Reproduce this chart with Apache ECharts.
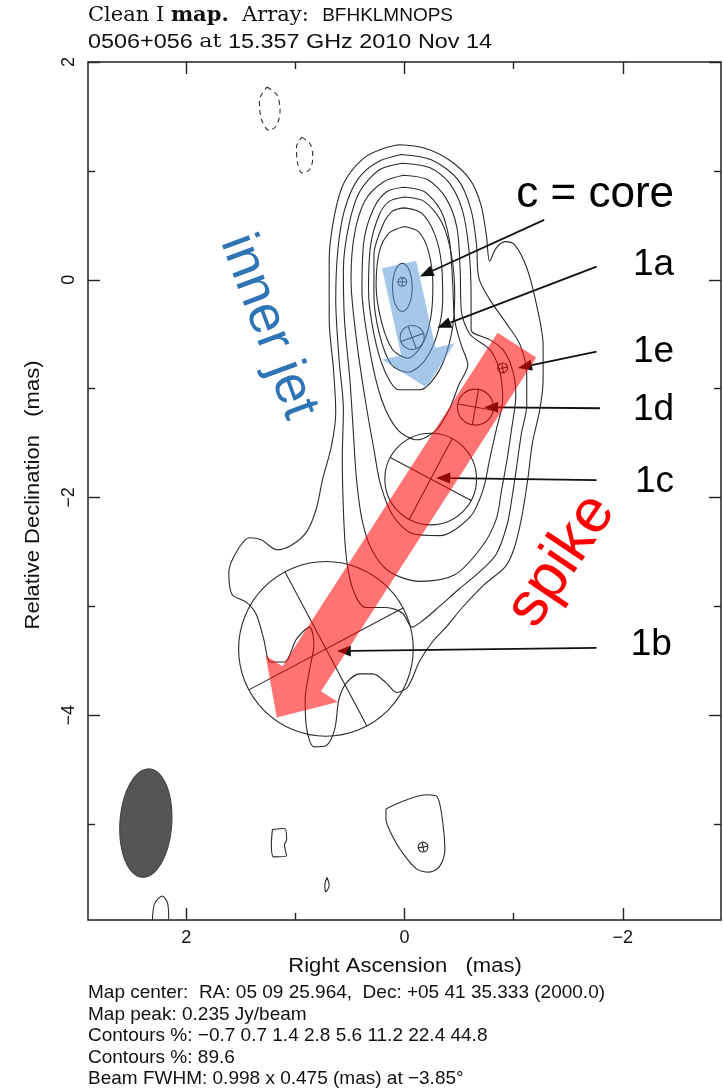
<!DOCTYPE html>
<html>
<head>
<meta charset="utf-8">
<title>0506+056 clean map</title>
<script src="https://cdn.jsdelivr.net/npm/echarts@6/dist/echarts.min.js"></script>
<style>
html, body { margin: 0; padding: 0; background: #fff; }
#main { width: 723px; height: 1088px; }
</style>
</head>
<body>
<div id="main"></div>
<script>
// axis ticks (mas)
var xMajorTicks = [2, 0, -2]
var xMinorTicks = [1, -1]
var yMajorTicks = [2, 0, -2, -4]
var yMinorTicks = [1, -1, -3, -5]

// contours [RA, Dec] in mas, outermost (0.7%) to innermost
var contour07 = [[0.05,1.24],[-0.18,1.21],[-0.41,1.10],[-0.60,0.92],[-0.70,0.69],[-0.75,0.41],[-0.78,0.17],[-0.84,0.29],[-0.92,0.35],[-1.01,0.32],[-1.12,0.11],[-1.21,-0.23],[-1.27,-0.60],[-1.27,-0.92],[-1.24,-1.19],[-1.17,-1.51],[-1.13,-1.83],[-1.07,-2.20],[-1.00,-2.48],[-0.92,-2.64],[-0.73,-2.80],[-0.53,-3.01],[-0.39,-3.18],[-0.26,-3.32],[-0.14,-3.50],[-0.03,-3.74],[0.07,-3.79],[0.17,-3.70],[0.29,-3.62],[0.41,-3.62],[0.53,-3.70],[0.60,-3.85],[0.64,-4.13],[0.72,-4.28],[0.83,-4.29],[0.90,-4.10],[0.91,-3.85],[0.87,-3.58],[0.83,-3.35],[0.87,-3.19],[0.99,-3.30],[1.10,-3.51],[1.23,-3.51],[1.29,-3.30],[1.36,-3.07],[1.45,-2.96],[1.58,-2.89],[1.61,-2.69],[1.54,-2.50],[1.42,-2.37],[1.31,-2.39],[1.17,-2.48],[1.04,-2.44],[0.90,-2.32],[0.81,-2.11],[0.75,-1.83],[0.67,-1.53],[0.63,-1.22],[0.65,-0.83],[0.69,-0.37],[0.69,0.18],[0.64,0.60],[0.55,0.90],[0.37,1.12],[0.18,1.21],[0.05,1.24]]
var contour14 = [[0.03,1.15],[-0.25,1.10],[-0.49,0.92],[-0.61,0.64],[-0.66,0.32],[-0.68,0.02],[-0.78,-0.18],[-0.94,-0.41],[-1.06,-0.60],[-1.12,-0.87],[-1.12,-1.15],[-1.07,-1.42],[-1.03,-1.70],[-0.99,-1.97],[-0.94,-2.25],[-0.84,-2.52],[-0.69,-2.68],[-0.50,-2.84],[-0.32,-3.00],[-0.18,-3.12],[-0.07,-3.19],[0.02,-3.06],[0.17,-3.01],[0.35,-3.01],[0.43,-2.94],[0.50,-2.75],[0.54,-2.48],[0.56,-2.11],[0.57,-1.65],[0.56,-1.19],[0.60,-0.73],[0.63,-0.18],[0.61,0.28],[0.55,0.64],[0.43,0.92],[0.25,1.08],[0.03,1.15]]
var contour28 = [[0.02,1.07],[-0.23,1.03],[-0.41,0.89],[-0.53,0.64],[-0.59,0.28],[-0.61,-0.14],[-0.61,-0.46],[-0.78,-0.55],[-0.90,-0.64],[-0.99,-0.83],[-1.02,-1.06],[-0.98,-1.38],[-0.94,-1.65],[-0.89,-1.93],[-0.84,-2.20],[-0.71,-2.45],[-0.46,-2.71],[-0.14,-2.77],[0.14,-2.68],[0.30,-2.48],[0.39,-2.20],[0.44,-1.83],[0.47,-1.38],[0.50,-0.92],[0.55,-0.37],[0.56,0.09],[0.51,0.50],[0.41,0.81],[0.23,1.01],[0.02,1.07]]
var contour56 = [[0.01,0.96],[-0.21,0.92],[-0.38,0.75],[-0.48,0.48],[-0.51,0.09],[-0.52,-0.28],[-0.60,-0.50],[-0.78,-0.64],[-0.87,-0.83],[-0.90,-1.10],[-0.84,-1.38],[-0.78,-1.65],[-0.72,-1.93],[-0.60,-2.18],[-0.32,-2.35],[-0.07,-2.33],[0.11,-2.16],[0.22,-1.88],[0.28,-1.56],[0.36,-1.10],[0.44,-0.55],[0.49,0.00],[0.46,0.41],[0.36,0.73],[0.19,0.90],[0.01,0.96]]
var contour112 = [[0.01,0.85],[-0.18,0.81],[-0.33,0.64],[-0.41,0.37],[-0.44,0.00],[-0.46,-0.37],[-0.52,-0.60],[-0.58,-0.78],[-0.50,-0.96],[-0.41,-1.19],[-0.29,-1.38],[-0.12,-1.47],[0.06,-1.38],[0.21,-1.10],[0.32,-0.64],[0.39,-0.09],[0.37,0.37],[0.28,0.66],[0.16,0.81],[0.01,0.85]]
var contour224 = [[0.00,0.76],[-0.18,0.72],[-0.34,0.53],[-0.43,0.23],[-0.46,-0.14],[-0.43,-0.50],[-0.32,-0.83],[-0.14,-1.01],[0.05,-1.01],[0.18,-0.84],[0.28,-0.50],[0.33,-0.09],[0.31,0.32],[0.23,0.60],[0.14,0.72],[0.00,0.76]]
var contour448 = [[0.00,0.66],[-0.16,0.61],[-0.28,0.41],[-0.34,0.14],[-0.35,-0.18],[-0.30,-0.50],[-0.18,-0.75],[-0.03,-0.85],[0.12,-0.78],[0.23,-0.50],[0.28,-0.14],[0.28,0.23],[0.20,0.50],[0.11,0.63],[0.00,0.66]]
var contour896 = [[0.00,0.49],[-0.13,0.44],[-0.22,0.26],[-0.26,-0.05],[-0.24,-0.35],[-0.16,-0.60],[-0.03,-0.72],[0.11,-0.64],[0.21,-0.39],[0.26,-0.05],[0.23,0.26],[0.14,0.43],[0.00,0.49]]

// negative (-0.7%) contours
var negContourA = [[1.26,1.77],[1.17,1.70],[1.14,1.56],[1.17,1.42],[1.24,1.37],[1.31,1.47],[1.33,1.65],[1.26,1.77]]
var negContourB = [[0.94,1.31],[0.86,1.24],[0.84,1.12],[0.87,1.01],[0.94,0.98],[0.98,1.07],[0.99,1.22],[0.94,1.31]]

// small isolated 0.7% islands
var islandA = [[0.17,-4.86],[-0.20,-4.73],[-0.30,-4.75],[-0.35,-4.98],[-0.37,-5.23],[-0.32,-5.39],[-0.23,-5.44],[-0.11,-5.41],[0.02,-5.26],[0.11,-5.11],[0.17,-4.95],[0.17,-4.86]]
var islandB = [[1.21,-5.05],[1.10,-5.04],[1.08,-5.14],[1.10,-5.19],[1.08,-5.29],[1.20,-5.30],[1.22,-5.18],[1.21,-5.05]]
var islandC = [[0.71,-5.49],[0.69,-5.56],[0.72,-5.62],[0.73,-5.56],[0.71,-5.49]]
var islandD = [[2.31,-5.89],[2.29,-5.73],[2.22,-5.66],[2.17,-5.73],[2.16,-5.89]]

// model components: [RA, Dec, radius (mas), cross angle (deg)]
var components = [[0.02,-0.02,0.04,0],[-0.07,-0.53,0.11,20],[-0.90,-0.81,0.045,10],[-0.65,-1.17,0.165,-10],[-0.24,-1.83,0.42,-28],[0.72,-3.39,0.80,28],[-0.17,-5.21,0.045,10]]
// core ellipse and restoring beam: [RA, Dec, semi-major, semi-minor, PA (deg)]
var coreEllipse = [[0.02,-0.07,0.22,0.09,0]]
var beam = [[2.37,-4.99,0.499,0.2375,-3.85]]

// annotation labels: text anchor (right end), pointer start, pointer tip
var labelNames = ['c = core', '1a', '1e', '1d', '1c', '1b']
var labelPos = [[-2.47,0.78],[-2.47,0.14],[-2.47,-0.66],[-2.47,-1.19],[-2.47,-1.86],[-2.45,-3.35]]
var pointerFrom = [[-1.28,0.55],[-1.76,0.12],[-1.76,-0.66],[-1.79,-1.18],[-1.76,-1.84],[-1.76,-3.38]]
var pointerTo = [[-0.14,0.03],[-0.30,-0.44],[-1.04,-0.81],[-0.73,-1.17],[-0.29,-1.82],[0.62,-3.41]]

// jet arrows: [tail RA, tail Dec, tip RA, tip Dec]
var jetArrows = [[0.05,0.14,-0.20,-0.99],[-1.03,-0.60,1.17,-4.02]]
var jetWords = ['inner jet', 'spike']
var jetWordPos = [[1.25,-0.43],[-1.44,-2.58]]

var infoLines = [
  'Map center:  RA: 05 09 25.964,  Dec: +05 41 35.333 (2000.0)',
  'Map peak: 0.235 Jy/beam',
  'Contours %: \u22120.7 0.7 1.4 2.8 5.6 11.2 22.4 44.8',
  'Contours %: 89.6',
  'Beam FWHM: 0.998 x 0.475 (mas) at \u22123.85\u00b0'
]

// styles
var arrowStyles = [
  { shaft: 17.5, wing: 37, head: 37, color: 'rgba(91,155,213,0.55)' },
  { shaft: 23, wing: 43, head: 46, color: 'rgba(255,0,0,0.55)' }
]
var wordStyles = [
  { size: 54, color: '#2e75b6', rot: -69.7 },
  { size: 62, color: '#ff0000', rot: 56 }
]
var sans = '"Liberation Sans", Arial, sans-serif'
var serif = '"DejaVu Serif", serif'

function fmtTick(v) {
  return v < 0 ? '\u2212' + Math.abs(v) : String(v)
}

function xAxisFor(pos, ticks, len, labels) {
  return {
    type: 'value', min: -2.9, max: 2.9, inverse: true, position: pos,
    axisLine: { show: false, onZero: false }, splitLine: { show: false },
    axisTick: { inside: true, length: len, customValues: ticks, lineStyle: { color: '#222', width: 1.4 } },
    axisLabel: labels ? { customValues: ticks, formatter: fmtTick, fontSize: 18, fontFamily: sans, color: '#111', margin: 9 } : { show: false }
  }
}
function yAxisFor(pos, ticks, len, labels) {
  return {
    type: 'value', min: -5.88, max: 2, position: pos,
    axisLine: { show: false, onZero: false }, splitLine: { show: false },
    axisTick: { inside: true, length: len, customValues: ticks, lineStyle: { color: '#222', width: 1.4 } },
    axisLabel: labels ? { customValues: ticks, formatter: fmtTick, fontSize: 18, fontFamily: sans, color: '#111', margin: 10, rotate: 90 } : { show: false }
  }
}

function contourSeries(d, dashed) {
  return {
    type: 'line', data: d, showSymbol: false, symbol: 'none', smooth: 0.3, clip: true, silent: true, z: 2,
    lineStyle: { color: '#2b2b2b', width: 1.1, type: dashed ? [5, 4] : 'solid' }
  }
}

function renderComponent(params, api) {
  var c = api.coord([api.value(0), api.value(1)])
  var r = api.size([api.value(2), 0])[0]
  var a = api.value(3) * Math.PI / 180
  var dx = Math.cos(a) * r, dy = -Math.sin(a) * r
  var st = { stroke: '#2b2b2b', lineWidth: 1.1, fill: null }
  return {
    type: 'group',
    children: [
      { type: 'circle', shape: { cx: c[0], cy: c[1], r: r }, style: st },
      { type: 'line', shape: { x1: c[0] - dx, y1: c[1] - dy, x2: c[0] + dx, y2: c[1] + dy }, style: st },
      { type: 'line', shape: { x1: c[0] + dy, y1: c[1] - dx, x2: c[0] - dy, y2: c[1] + dx }, style: st }
    ]
  }
}

function ellipseRenderer(fill, stroke) {
  return function (params, api) {
    var c = api.coord([api.value(0), api.value(1)])
    var maj = api.size([0, api.value(2)])[1]
    var min = api.size([api.value(3), 0])[0]
    var pa = api.value(4) * Math.PI / 180
    var mx = -Math.sin(pa), my = -Math.cos(pa)
    var nx = -my, ny = mx
    var pts = []
    for (var i = 0; i < 72; i++) {
      var t = i / 72 * Math.PI * 2
      pts.push([c[0] + maj * Math.cos(t) * mx + min * Math.sin(t) * nx, c[1] + maj * Math.cos(t) * my + min * Math.sin(t) * ny])
    }
    return { type: 'polygon', shape: { points: pts }, style: { fill: fill, stroke: stroke, lineWidth: 1.1 } }
  }
}

function renderPointer(params, api) {
  var t = api.coord([api.value(0), api.value(1)])
  var p0 = api.coord([api.value(2), api.value(3)])
  var p1 = api.coord([api.value(4), api.value(5)])
  var dx = p1[0] - p0[0], dy = p1[1] - p0[1], len = Math.sqrt(dx * dx + dy * dy)
  var ux = dx / len, uy = dy / len
  var bx = p1[0] - ux * 14, by = p1[1] - uy * 14
  var name = labelNames[params.dataIndex]
  return {
    type: 'group',
    children: [
      { type: 'line', shape: { x1: p0[0], y1: p0[1], x2: bx, y2: by }, style: { stroke: '#111', lineWidth: 1.8 } },
      { type: 'polygon', shape: { points: [p1, [bx - uy * 5.5, by + ux * 5.5], [bx + uy * 5.5, by - ux * 5.5]] }, style: { fill: '#111' } },
      { type: 'text', x: t[0], y: t[1], style: { text: name, fill: '#000', fontFamily: sans, fontSize: name.length > 2 ? 44 : 37, align: 'right', verticalAlign: 'middle' } }
    ]
  }
}

function renderFatArrow(params, api) {
  var s = arrowStyles[params.dataIndex]
  var a = api.coord([api.value(0), api.value(1)])
  var b = api.coord([api.value(2), api.value(3)])
  var dx = b[0] - a[0], dy = b[1] - a[1], len = Math.sqrt(dx * dx + dy * dy)
  var ux = dx / len, uy = dy / len, nx = -uy, ny = ux
  var bx = b[0] - ux * s.head, by = b[1] - uy * s.head
  var pts = [
    [a[0] + nx * s.shaft, a[1] + ny * s.shaft],
    [bx + nx * s.shaft, by + ny * s.shaft],
    [bx + nx * s.wing, by + ny * s.wing],
    b,
    [bx - nx * s.wing, by - ny * s.wing],
    [bx - nx * s.shaft, by - ny * s.shaft],
    [a[0] - nx * s.shaft, a[1] - ny * s.shaft]
  ]
  return { type: 'polygon', shape: { points: pts }, style: { fill: s.color } }
}

function renderWord(params, api) {
  var s = wordStyles[params.dataIndex]
  var p = api.coord([api.value(0), api.value(1)])
  return {
    type: 'text', x: p[0], y: p[1], rotation: s.rot * Math.PI / 180,
    style: { text: jetWords[params.dataIndex], fill: s.color, fontFamily: sans, fontSize: s.size, align: 'center', verticalAlign: 'middle' }
  }
}

var pointerData = labelNames.map(function (n, i) {
  return labelPos[i].concat(pointerFrom[i], pointerTo[i])
})

var series = [contour07, contour14, contour28, contour56, contour112, contour224, contour448, contour896,
  islandA, islandB, islandC, islandD].map(function (d) { return contourSeries(d, false) })
series.push(contourSeries(negContourA, true), contourSeries(negContourB, true))
series.push(
  { type: 'custom', renderItem: ellipseRenderer('#555', '#444'), data: beam, z: 3, silent: true },
  { type: 'custom', renderItem: ellipseRenderer(null, '#2b2b2b'), data: coreEllipse, z: 3, silent: true },
  { type: 'custom', renderItem: renderComponent, data: components, z: 3, silent: true },
  { type: 'custom', renderItem: renderPointer, data: pointerData, z: 4, silent: true },
  { type: 'custom', renderItem: renderFatArrow, data: jetArrows, z: 5, silent: true },
  { type: 'custom', renderItem: renderWord, data: jetWordPos, z: 6, silent: true }
)

var chart = echarts.init(document.getElementById('main'))
chart.setOption({
  animation: false,
  backgroundColor: '#fff',
  grid: { left: 88, right: 2, top: 62, bottom: 168, show: true, borderColor: '#222', borderWidth: 1.5 },
  xAxis: [xAxisFor('bottom', xMajorTicks, 12, true), xAxisFor('bottom', xMinorTicks, 7, false),
    xAxisFor('top', xMajorTicks, 12, false), xAxisFor('top', xMinorTicks, 7, false)],
  yAxis: [yAxisFor('left', yMajorTicks, 12, true), yAxisFor('left', yMinorTicks, 7, false),
    yAxisFor('right', yMajorTicks, 12, false), yAxisFor('right', yMinorTicks, 7, false)],
  graphic: [
    { type: 'text', x: 88, y: 16, style: {
      text: '{s|Clean I }{b|map.}{s|  Array:  }{h|BFHKLMNOPS}', verticalAlign: 'middle',
      rich: { s: { fontFamily: serif, fontSize: 21, fill: '#111' }, b: { fontFamily: serif, fontWeight: 'bold', fontSize: 21, fill: '#111' }, h: { fontFamily: sans, fontSize: 19, fill: '#111' } } } },
    { type: 'text', x: 88, y: 42, scaleX: 1.17, style: {
      text: '{h|0506+056 }{s|at}{h| 15.357 GHz 2010 Nov 14}', verticalAlign: 'middle',
      rich: { s: { fontFamily: serif, fontSize: 19, fill: '#111' }, h: { fontFamily: sans, fontSize: 20, fill: '#111' } } } },
    { type: 'text', x: 405, y: 966, scaleX: 1.1, style: { text: 'Right Ascension   (mas)', fontFamily: sans, fontSize: 20, fill: '#111', align: 'center', verticalAlign: 'middle' } },
    { type: 'text', x: 33, y: 495, rotation: Math.PI / 2, scaleX: 1.1, style: { text: 'Relative Declination   (mas)', fontFamily: sans, fontSize: 20, fill: '#111', align: 'center', verticalAlign: 'middle' } }
  ].concat(infoLines.map(function (t, i) {
    return { type: 'text', x: 88, y: 993 + i * 21.5, style: { text: t, fontFamily: sans, fontSize: 19, fill: '#111', align: 'left', verticalAlign: 'middle' } }
  })),
  series: series
})
</script>
</body>
</html>
